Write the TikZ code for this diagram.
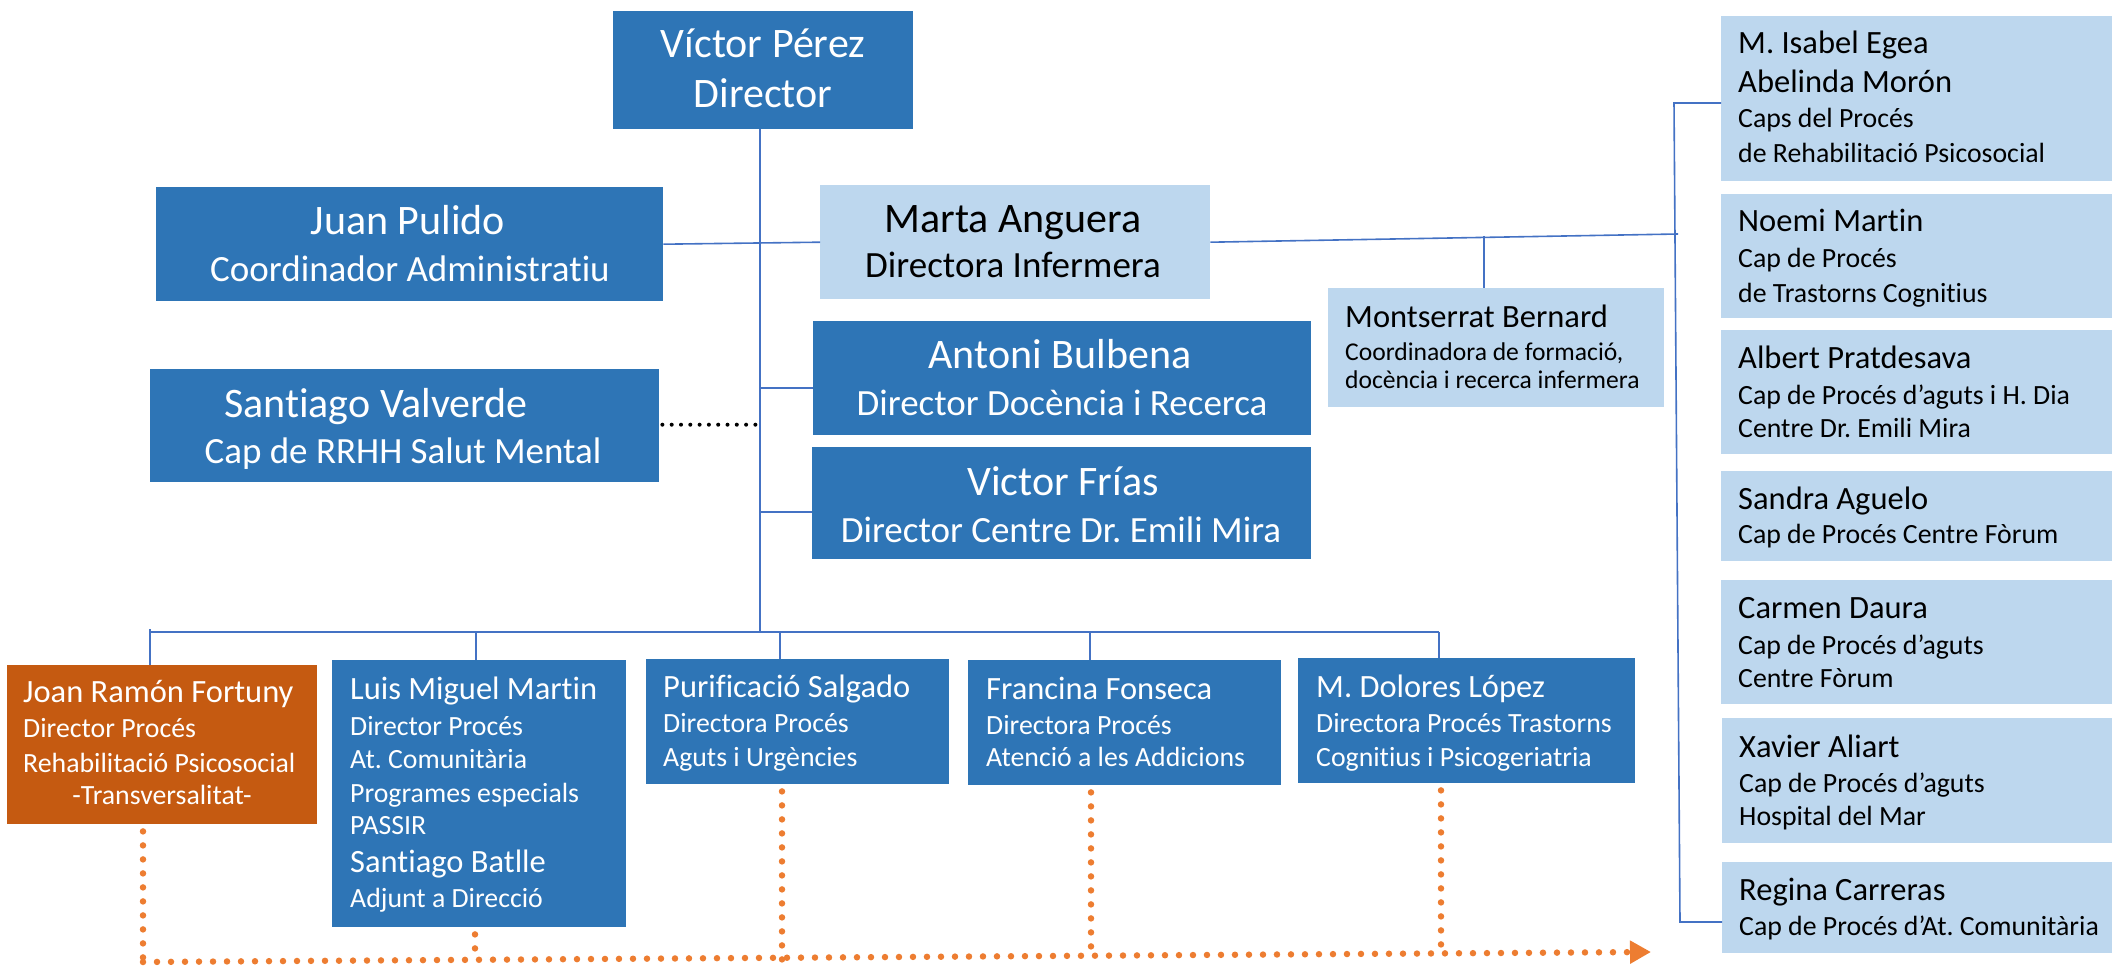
\documentclass[tikz,border=0pt]{standalone}
\usepackage{fontspec}
\setmainfont{Carlito}[Ligatures=NoCommon]
\frenchspacing
\usetikzlibrary{arrows.meta,calc}
\definecolor{dblue}{HTML}{2E75B6}
\definecolor{lblue}{HTML}{BDD7EE}
\definecolor{obox}{HTML}{C55A11}
\definecolor{odot}{HTML}{ED7D31}
\definecolor{lineblue}{HTML}{4472C4}
\tikzset{
  box/.style={inner sep=0pt, anchor=north west, draw=none},
  dbox/.style={box, fill=dblue},
  lbox/.style={box, fill=lblue},
  orbox/.style={box, fill=obox},
  conn/.style={draw=lineblue, line width=1.6pt},
  odots/.style={draw=odot, line width=6.5pt, line cap=round, dash pattern=on 0pt off 14pt},
  kdots/.style={draw=black, line width=4pt, line cap=round, dash pattern=on 0pt off 9.3pt},
  txt/.style={inner sep=0pt},
  tA/.style={txt, font=\fontsize{42}{50}\selectfont},
  tB/.style={txt, font=\fontsize{37}{44}\selectfont},
  tC/.style={txt, font=\fontsize{32.5}{38}\selectfont},
  tD/.style={txt, font=\fontsize{27.8}{33}\selectfont},
  tE/.style={txt, font=\fontsize{25.6}{30}\selectfont},
  wt/.style={text=white},
  bt/.style={text=black},
}
\begin{document}
\begin{tikzpicture}[x=1pt,y=-1pt]
\useasboundingbox (0,0) rectangle (2112,968);

% ---------- boxes ----------
\node[dbox, minimum width=300pt, minimum height=118pt] (victor) at (613,11) {};
\node[dbox, minimum width=507pt, minimum height=114pt] (juan) at (156,187) {};
\node[lbox, minimum width=390pt, minimum height=114pt] (marta) at (820,185) {};
\node[dbox, minimum width=509pt, minimum height=113pt] (santiago) at (150,369) {};
\node[dbox, minimum width=498pt, minimum height=114pt] (antoni) at (813,321) {};
\node[dbox, minimum width=499pt, minimum height=112pt] (frias) at (812,447) {};
\node[lbox, minimum width=336pt, minimum height=119pt] (montse) at (1328,288) {};

\node[lbox, minimum width=391pt, minimum height=165pt] (isabel) at (1721,16) {};
\node[lbox, minimum width=391pt, minimum height=124pt] (noemi) at (1721,194) {};
\node[lbox, minimum width=391pt, minimum height=124pt] (albert) at (1721,330) {};
\node[lbox, minimum width=391pt, minimum height=90pt] (sandra) at (1721,471) {};
\node[lbox, minimum width=391pt, minimum height=124pt] (carmen) at (1721,580) {};
\node[lbox, minimum width=390pt, minimum height=125pt] (xavier) at (1722,718) {};
\node[lbox, minimum width=390pt, minimum height=91pt] (regina) at (1722,862) {};

\node[orbox, minimum width=310pt, minimum height=159pt] (joan) at (7,665) {};
\node[dbox, minimum width=294pt, minimum height=267pt] (luis) at (332,660) {};
\node[dbox, minimum width=303pt, minimum height=125pt] (puri) at (646,659) {};
\node[dbox, minimum width=313pt, minimum height=125pt] (francina) at (968,660) {};
\node[dbox, minimum width=337pt, minimum height=125pt] (dolores) at (1298,658) {};

% ---------- texts ----------
\node[tA, wt, anchor=base] (victor1) at (763,58) {Víctor Pérez};
\node[tA, wt, anchor=base] (victor2) at (763,108) {Director};
\node[tA, wt, anchor=base] (juan1) at (408,235) {Juan Pulido};
\node[tB, wt, anchor=base] (juan2) at (410,282) {Coordinador Administratiu};
\node[tA, bt, anchor=base] (marta1) at (1013,233) {Marta Anguera};
\node[tB, bt, anchor=base] (marta2) at (1013,278) {Directora Infermera};
\node[tA, wt, anchor=base] (santiago1) at (376,417) {Santiago Valverde};
\node[tB, wt, anchor=base] (santiago2) at (403,463) {Cap de RRHH Salut Mental};
\node[tA, wt, anchor=base] (antoni1) at (1060,368) {Antoni Bulbena};
\node[tB, wt, anchor=base] (antoni2) at (1062,415) {Director Docència i Recerca};
\node[tA, wt, anchor=base] (frias1) at (1063,495) {Victor Frías};
\node[tB, wt, anchor=base] (frias2) at (1061,542) {Director Centre Dr. Emili Mira};
\node[tC, bt, anchor=base west] (montse1) at (1345,327) {Montserrat Bernard};
\node[tE, bt, anchor=base west] (montse2) at (1345,360) {Coordinadora de formació,};
\node[tE, bt, anchor=base west] (montse3) at (1345,388) {docència i recerca infermera};

\node[tC, bt, anchor=base west] (isabel1) at (1738,54) {M. Isabel Egea};
\node[tC, bt, anchor=base west] (isabel2) at (1738,93) {Abelinda Morón};
\node[tD, bt, anchor=base west] (isabel3) at (1738,128) {Caps del Procés};
\node[tD, bt, anchor=base west] (isabel4) at (1738,163) {de Rehabilitació Psicosocial};
\node[tC, bt, anchor=base west] (noemi1) at (1738,232) {Noemi Martin};
\node[tD, bt, anchor=base west] (noemi2) at (1738,268) {Cap de Procés};
\node[tD, bt, anchor=base west] (noemi3) at (1738,302) {de Trastorns Cognitius};
\node[tC, bt, anchor=base west] (albert1) at (1738,368) {Albert Pratdesava};
\node[tD, bt, anchor=base west] (albert2) at (1738,404) {Cap de Procés d’aguts i H. Dia};
\node[tD, bt, anchor=base west] (albert3) at (1738,437) {Centre Dr. Emili Mira};
\node[tC, bt, anchor=base west] (sandra1) at (1738,509) {Sandra Aguelo};
\node[tD, bt, anchor=base west] (sandra2) at (1738,543) {Cap de Procés Centre Fòrum};
\node[tC, bt, anchor=base west] (carmen1) at (1738,618) {Carmen Daura};
\node[tD, bt, anchor=base west] (carmen2) at (1738,654) {Cap de Procés d’aguts};
\node[tD, bt, anchor=base west] (carmen3) at (1738,687) {Centre Fòrum};
\node[tC, bt, anchor=base west] (xavier1) at (1739,757) {Xavier Aliart};
\node[tD, bt, anchor=base west] (xavier2) at (1739,792) {Cap de Procés d’aguts};
\node[tD, bt, anchor=base west] (xavier3) at (1739,825) {Hospital del Mar};
\node[tC, bt, anchor=base west] (regina1) at (1739,900) {Regina Carreras};
\node[tD, bt, anchor=base west] (regina2) at (1739,935) {Cap de Procés d’At. Comunitària};

\node[tC, wt, anchor=base west] (joan1) at (23,702) {Joan Ramón Fortuny};
\node[tD, wt, anchor=base west] (joan2) at (23,737) {Director Procés};
\node[tD, wt, anchor=base west] (joan3) at (23,772) {Rehabilitació Psicosocial};
\node[tD, wt, anchor=base] (joan4) at (162,804) {-Transversalitat-};
\node[tC, wt, anchor=base west] (luis1) at (350,699) {Luis Miguel Martin};
\node[tD, wt, anchor=base west] (luis2) at (350,735) {Director Procés};
\node[tD, wt, anchor=base west] (luis3) at (350,768) {At. Comunitària};
\node[tD, wt, anchor=base west] (luis4) at (350,802) {Programes especials};
\node[tD, wt, anchor=base west] (luis5) at (350,834) {PASSIR};
\node[tC, wt, anchor=base west] (luis6) at (350,872) {Santiago Batlle};
\node[tD, wt, anchor=base west] (luis7) at (350,907) {Adjunt a Direcció};
\node[tC, wt, anchor=base west] (puri1) at (663,697) {Purificació Salgado};
\node[tD, wt, anchor=base west] (puri2) at (663,732) {Directora Procés};
\node[tD, wt, anchor=base west] (puri3) at (663,766) {Aguts i Urgències};
\node[tC, wt, anchor=base west] (francina1) at (986,699) {Francina Fonseca};
\node[tD, wt, anchor=base west] (francina2) at (986,734) {Directora Procés};
\node[tD, wt, anchor=base west] (francina3) at (986,766) {Atenció a les Addicions};
\node[tC, wt, anchor=base west] (dolores1) at (1316,697) {M. Dolores López};
\node[tD, wt, anchor=base west] (dolores2) at (1316,732) {Directora Procés Trastorns};
\node[tD, wt, anchor=base west] (dolores3) at (1316,766) {Cognitius i Psicogeriatria};

% ---------- connector coordinates ----------
\coordinate (hub) at (760,632);
\coordinate (d1) at (150,629);
\coordinate (d2) at (476,632);
\coordinate (d3) at (780,632);
\coordinate (d4) at (1090,632);
\coordinate (d5) at (1439,632);
\coordinate (rjoin) at (1678,234);
\coordinate (mjoin) at (1484,236);
\coordinate (rtop) at (1674,103);
\coordinate (rbot) at (1680,922);
\coordinate (o1) at (143,962);
\coordinate (oend) at (1651,952);

% ---------- blue connectors ----------
\draw[conn] (victor.south -| hub) -- (hub);
\draw[conn] (juan.east) -- (marta.west);
\draw[conn] ($(antoni.west)+(0,10)$) -- ($(antoni.west -| hub)+(0,10)$);
\draw[conn] ($(frias.west)+(0,9)$) -- ($(frias.west -| hub)+(0,9)$);
\draw[conn] (marta.east) -- (rjoin);
\draw[conn] (mjoin) -- (mjoin |- montse.north);
\draw[conn] (isabel.west |- rtop) -- (rtop) -- (rbot) -- (regina.west |- rbot);
\draw[conn] (d1 |- hub) -- (d5);
\draw[conn] (d1) -- (d1 |- joan.north);
\draw[conn] (d2) -- (d2 |- luis.north);
\draw[conn] (d3) -- (d3 |- puri.north);
\draw[conn] (d4) -- (d4 |- francina.north);
\draw[conn] (d5) -- (d5 |- dolores.north);

% ---------- black dotted ----------
\draw[kdots] ($(santiago.east)+(3,-1)$) -- ($(santiago.east -| hub)+(0,-1)$);

% ---------- orange dotted ----------
\draw[odots] ($(joan.south -| o1)+(0,7)$) -- (143,968);
\draw[odots] ($(luis.south -| 475,0)+(0,7)$) -- (475,960);
\draw[odots] ($(puri.south -| 782,0)+(0,7)$) -- (782,968);
\draw[odots] ($(francina.south -| 1091,0)+(0,7)$) -- (1091,957);
\draw[odots] ($(dolores.south -| 1441,0)+(0,7)$) -- (1441,955);
\draw[odots, -{Triangle[length=21pt,width=22pt]}] (o1) -- (oend);
\end{tikzpicture}
\end{document}
